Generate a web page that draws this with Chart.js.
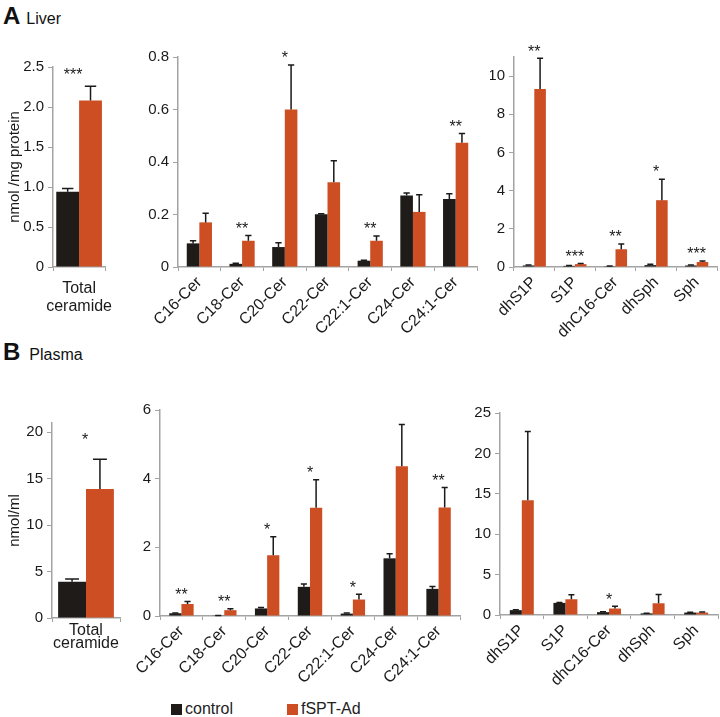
<!DOCTYPE html>
<html>
<head>
<meta charset="utf-8">
<script src="https://cdn.jsdelivr.net/npm/chart.js@4.4.1/dist/chart.umd.min.js"></script>
<style>
  body { margin: 0; background: #fff; font-family: 'Liberation Sans', Arial, sans-serif; }
  #page { position: relative; width: 720px; height: 717px; overflow: hidden; }
  canvas { position: absolute; }
  .panel { position: absolute; color: #111; white-space: nowrap; }
  .panel b { font-size: 24px; }
  .panel span { font-size: 16px; margin-left: 6px; }
  .legend { position: absolute; top: 699px; font-size: 16px; color: #222; line-height: 20px; }
  .legend i { display: inline-block; width: 11px; height: 11px; vertical-align: -1px; margin-right: 3px; }
</style>
</head>
<body>
<div id="page">
  <div class="panel" style="left:3px; top:2px;"><b>A</b><span>Liver</span></div>
  <div class="panel" style="left:3px; top:338px;"><b>B</b><span style="margin-left:9px">Plasma</span></div>

  <canvas id="liverTotal"></canvas>
  <canvas id="liverCer"></canvas>
  <canvas id="liverSph"></canvas>
  <canvas id="plasmaTotal"></canvas>
  <canvas id="plasmaCer"></canvas>
  <canvas id="plasmaSph"></canvas>

  <div class="legend" style="left:171px;"><i style="background:#1e1b19"></i>control</div>
  <div class="legend" style="left:287px;"><i style="background:#cc4e22"></i>fSPT-Ad</div>
</div>

<script>
// categories
const totalLabels = [['Total', 'ceramide']];
const cerLabels = ['C16-Cer', 'C18-Cer', 'C20-Cer', 'C22-Cer', 'C22:1-Cer', 'C24-Cer', 'C24:1-Cer'];
const sphLabels = ['dhS1P', 'S1P', 'dhC16-Cer', 'dhSph', 'Sph'];

// liver (nmol/mg protein): mean and SE
const liverTotalCtrl = [0.94];
const liverTotalCtrlErr = [0.04];
const liverTotalFspt = [2.08];
const liverTotalFsptErr = [0.18];
const liverTotalStars = ['***'];

const liverCerCtrl = [0.09, 0.012, 0.076, 0.201, 0.024, 0.272, 0.259];
const liverCerCtrlErr = [0.01, 0.002, 0.016, 0.002, 0.002, 0.01, 0.02];
const liverCerFspt = [0.17, 0.10, 0.60, 0.323, 0.10, 0.21, 0.473];
const liverCerFsptErr = [0.035, 0.02, 0.17, 0.082, 0.018, 0.065, 0.036];
const liverCerStars = ['', '**', '*', '', '**', '', '**'];

const liverSphCtrl = [0.08, 0.06, 0.04, 0.1, 0.08];
const liverSphCtrlErr = [0.03, 0.02, 0.01, 0.04, 0.03];
const liverSphFspt = [9.33, 0.15, 0.93, 3.5, 0.26];
const liverSphFsptErr = [1.6, 0.03, 0.27, 1.1, 0.05];
const liverSphStars = ['**', '***', '**', '*', '***'];

// plasma (nmol/ml)
const plasmaTotalCtrl = [3.9];
const plasmaTotalCtrlErr = [0.3];
const plasmaTotalFspt = [13.9];
const plasmaTotalFsptErr = [3.2];
const plasmaTotalStars = ['*'];

const plasmaCerCtrl = [0.08, 0.01, 0.22, 0.85, 0.07, 1.68, 0.79];
const plasmaCerCtrlErr = [0.01, 0.005, 0.03, 0.08, 0.02, 0.13, 0.07];
const plasmaCerFspt = [0.35, 0.17, 1.77, 3.15, 0.48, 4.36, 3.16];
const plasmaCerFsptErr = [0.07, 0.04, 0.54, 0.82, 0.15, 1.22, 0.58];
const plasmaCerStars = ['**', '**', '*', '*', '*', '', '**'];

const plasmaSphCtrl = [0.6, 1.5, 0.35, 0.2, 0.3];
const plasmaSphCtrlErr = [0.05, 0.05, 0.05, 0.03, 0.03];
const plasmaSphFspt = [14.2, 1.95, 0.8, 1.45, 0.3];
const plasmaSphFsptErr = [8.5, 0.55, 0.28, 1.1, 0.06];
const plasmaSphStars = ['', '', '*', '', ''];

// y tick values
const liverTotalTicks = [0, 0.5, 1, 1.5, 2, 2.5];
const liverCerTicks = [0, 0.2, 0.4, 0.6, 0.8];
const liverSphTicks = [0, 2, 4, 6, 8, 10];
const plasmaTotalTicks = [0, 5, 10, 15, 20];
const plasmaCerTicks = [0, 2, 4, 6];
const plasmaSphTicks = [0, 5, 10, 15, 20, 25];

const FONT = "'Liberation Sans', Arial, sans-serif";
const BLACK = '#1e1b19';
const ORANGE = '#cc4e22';
const AXIS = '#a3a3a3';

// error bars (upward only) and significance stars
const errorStarPlugin = {
  id: 'errorStars',
  afterDatasetsDraw(chart, args, opts) {
    const ctx = chart.ctx;
    const yScale = chart.scales.y;
    const xScale = chart.scales.x;
    const tops = [];
    ctx.save();
    ctx.strokeStyle = '#1a1a1a';
    ctx.lineWidth = 1.5;
    chart.data.datasets.forEach((ds, di) => {
      const meta = chart.getDatasetMeta(di);
      meta.data.forEach((bar, i) => {
        const top = yScale.getPixelForValue(ds.data[i] + ds.err[i]);
        const cap = Math.max(6, bar.width * 0.5);
        ctx.beginPath();
        ctx.moveTo(bar.x, bar.y);
        ctx.lineTo(bar.x, top);
        ctx.moveTo(bar.x - cap / 2, top);
        ctx.lineTo(bar.x + cap / 2, top);
        ctx.stroke();
        tops[i] = tops[i] === undefined ? top : Math.min(tops[i], top);
      });
    });
    ctx.fillStyle = '#1a1a1a';
    ctx.font = '16px ' + FONT;
    ctx.textAlign = 'center';
    ctx.textBaseline = 'alphabetic';
    (opts.stars || []).forEach((s, i) => {
      if (!s) return;
      const x = xScale.getPixelForValue(i) + (opts.starShift || 0);
      ctx.fillText(s, x, tops[i] - (opts.starGap || 11) + 9.3);
    });
    ctx.restore();
  }
};

function makeChart(id, cfg) {
  const canvas = document.getElementById(id);
  const b = cfg.box, a = cfg.area;
  canvas.width = b.w; canvas.height = b.h;
  canvas.style.left = b.x + 'px'; canvas.style.top = b.y + 'px';
  const yWidth = a.left - b.x;
  const xHeight = (b.y + b.h) - a.bottom;
  return new Chart(canvas, {
    type: 'bar',
    data: {
      labels: cfg.labels,
      datasets: [
        { label: 'control', data: cfg.ctrl, err: cfg.ctrlErr, backgroundColor: BLACK },
        { label: 'fSPT-Ad', data: cfg.fspt, err: cfg.fsptErr, backgroundColor: ORANGE }
      ]
    },
    options: {
      responsive: false,
      animation: false,
      devicePixelRatio: 1,
      categoryPercentage: cfg.catPct,
      barPercentage: 1.0,
      layout: { padding: { top: a.top - b.y, right: (b.x + b.w) - a.right, left: 0, bottom: 0 } },
      plugins: {
        legend: { display: false },
        tooltip: { enabled: false },
        errorStars: { stars: cfg.stars, starGap: cfg.starGap, starShift: cfg.starShift }
      },
      scales: {
        x: {
          grid: { display: true, drawOnChartArea: false, offset: true, color: AXIS, tickLength: 4 },
          border: { color: AXIS, width: 1.5 },
          ticks: {
            autoSkip: false,
            minRotation: cfg.rot, maxRotation: cfg.rot,
            color: '#1a1a1a',
            padding: cfg.xPad,
            font: { family: FONT, size: cfg.xFont, lineHeight: cfg.xLine }
          },
          afterFit: s => { s.height = xHeight; }
        },
        y: {
          min: cfg.ticks[0],
          max: cfg.yMax,
          grid: { display: true, drawOnChartArea: false, color: AXIS, tickLength: 5 },
          border: { color: AXIS, width: 1.5 },
          ticks: { color: '#1a1a1a', padding: 4, font: { family: FONT, size: 15 } },
          title: cfg.yTitle ? {
            display: true, text: cfg.yTitle, color: '#1a1a1a',
            padding: { top: 6, bottom: 0 },
            font: { family: FONT, size: 15 }
          } : { display: false },
          afterBuildTicks: s => { s.ticks = cfg.ticks.map(v => ({ value: v })); },
          afterFit: s => { s.width = yWidth; }
        }
      }
    },
    plugins: [errorStarPlugin]
  });
}

makeChart('liverTotal', {
  box: { x: 0, y: 40, w: 125, h: 285 }, area: { left: 53, top: 67, right: 117, bottom: 267 },
  labels: totalLabels, ctrl: liverTotalCtrl, ctrlErr: liverTotalCtrlErr,
  fspt: liverTotalFspt, fsptErr: liverTotalFsptErr, stars: liverTotalStars, starGap: 16, starShift: -6,
  ticks: liverTotalTicks, yMax: 2.5, yTitle: 'nmol /mg protein',
  catPct: 0.875, rot: 0, xPad: 9, xFont: 16, xLine: 1.1
});
makeChart('liverCer', {
  box: { x: 130, y: 40, w: 355, h: 300 }, area: { left: 178, top: 57, right: 477, bottom: 267 },
  labels: cerLabels, ctrl: liverCerCtrl, ctrlErr: liverCerCtrlErr,
  fspt: liverCerFspt, fsptErr: liverCerFsptErr, stars: liverCerStars, starGap: 11,
  ticks: liverCerTicks, yMax: 0.8, catPct: 0.59, rot: 45, xPad: 2, xFont: 16, xLine: 1.2
});
makeChart('liverSph', {
  box: { x: 490, y: 40, w: 230, h: 300 }, area: { left: 514, top: 57, right: 717, bottom: 267 },
  labels: sphLabels, ctrl: liverSphCtrl, ctrlErr: liverSphCtrlErr,
  fspt: liverSphFspt, fsptErr: liverSphFsptErr, stars: liverSphStars, starGap: 11,
  ticks: liverSphTicks, yMax: 11, catPct: 0.57, rot: 45, xPad: 2, xFont: 16, xLine: 1.2
});
makeChart('plasmaTotal', {
  box: { x: 0, y: 395, w: 125, h: 265 }, area: { left: 52, top: 423, right: 120, bottom: 618 },
  labels: totalLabels, ctrl: plasmaTotalCtrl, ctrlErr: plasmaTotalCtrlErr,
  fspt: plasmaTotalFspt, fsptErr: plasmaTotalFsptErr, stars: plasmaTotalStars, starGap: 24, starShift: -1,
  ticks: plasmaTotalTicks, yMax: 21, yTitle: 'nmol/ml',
  catPct: 0.82, rot: 0, xPad: 2, xFont: 16, xLine: 0.8
});
makeChart('plasmaCer', {
  box: { x: 125, y: 390, w: 345, h: 300 }, area: { left: 160, top: 410, right: 460, bottom: 616 },
  labels: cerLabels, ctrl: plasmaCerCtrl, ctrlErr: plasmaCerCtrlErr,
  fspt: plasmaCerFspt, fsptErr: plasmaCerFsptErr, stars: plasmaCerStars, starGap: 11,
  ticks: plasmaCerTicks, yMax: 6, catPct: 0.57, rot: 45, xPad: 2, xFont: 16, xLine: 1.2
});
makeChart('plasmaSph', {
  box: { x: 470, y: 390, w: 250, h: 300 }, area: { left: 500, top: 413, right: 718, bottom: 615 },
  labels: sphLabels, ctrl: plasmaSphCtrl, ctrlErr: plasmaSphCtrlErr,
  fspt: plasmaSphFspt, fsptErr: plasmaSphFsptErr, stars: plasmaSphStars, starGap: 11,
  ticks: plasmaSphTicks, yMax: 25, catPct: 0.55, rot: 45, xPad: 2, xFont: 16, xLine: 1.2
});
</script>
</body>
</html>
